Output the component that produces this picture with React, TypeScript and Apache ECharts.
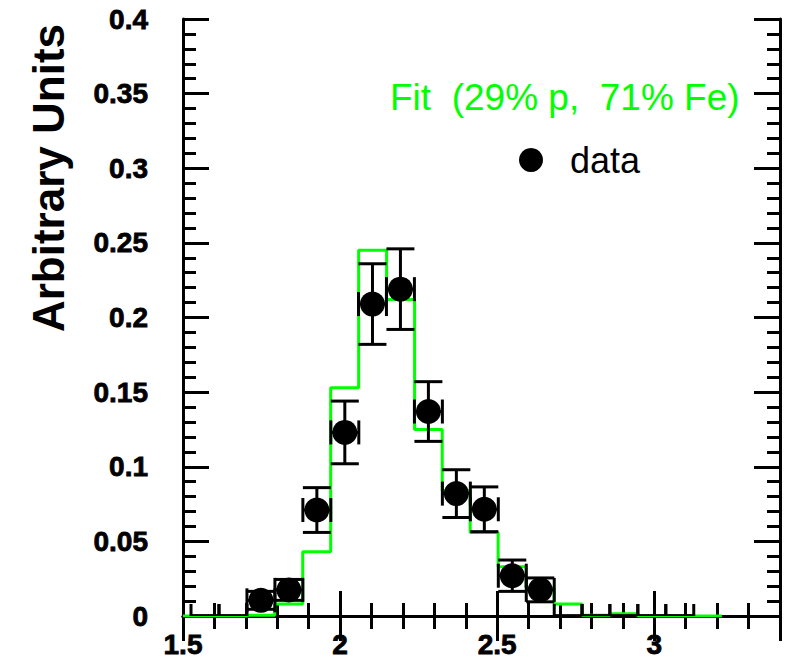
import React, { useEffect, useRef } from 'react';
import * as echarts from 'echarts';

// Fit histogram (green): bin edges and bin contents
const binEdges = [1.5, 1.614, 1.703, 1.792, 1.881, 1.970, 2.059, 2.148, 2.237, 2.325, 2.414, 2.503, 2.592, 2.681, 2.770, 2.859, 2.948, 3.037, 3.126, 3.215];
const fitValues = [0, 0, 0.0005, 0.008, 0.043, 0.153, 0.245, 0.212, 0.125, 0.084, 0.056, 0.033, 0.019, 0.008, 0.0005, 0.0015, 0, 0, 0];

// Data points (black)
const dataX = [1.748, 1.837, 1.926, 2.015, 2.103, 2.192, 2.281, 2.370, 2.459, 2.548, 2.637];
const dataY = [0.0105, 0.0175, 0.071, 0.123, 0.209, 0.219, 0.137, 0.082, 0.0715, 0.027, 0.0175];
const dataErr = [0.006, 0.007, 0.015, 0.021, 0.027, 0.027, 0.020, 0.016, 0.015, 0.0105, 0.008];
// Empty bins that still show their horizontal error bars
const zeroX = [1.570, 1.659, 2.726, 2.814, 2.903, 2.992, 3.081];
const binHalfWidth = 0.0445;

const xTickLabels = ['1.5', '2', '2.5', '3'];
const yTickLabels = ['0', '0.05', '0.1', '0.15', '0.2', '0.25', '0.3', '0.35', '0.4'];

const titleY = 'Arbitrary Units';
const fitLabel = 'Fit  (29% p,  71% Fe)';
const dataLabel = 'data';

const X_MIN = 1.5, X_MAX = 3.4, Y_MIN = 0, Y_MAX = 0.4;

export default function App() {
  const ref = useRef<HTMLDivElement>(null);
  useEffect(() => {
    if (!ref.current) return;
    const chart = echarts.init(ref.current, null, { renderer: 'svg' });

    const black = '#000';
    const frameLine = { show: true, lineStyle: { color: black, width: 3 } };
    const noLine = { show: false };
    const labelStyle = {
      fontFamily: 'Liberation Sans',
      fontWeight: 'bold' as const,
      fontSize: 28,
      color: black,
      textBorderColor: black,
      textBorderWidth: 0.8,
    };
    const mkX = (pos: 'top' | 'bottom', interval: number, tickLen: number, withLine: boolean, withLabel: boolean) => ({
      type: 'value',
      position: pos,
      min: X_MIN,
      max: X_MAX,
      interval,
      axisLine: withLine ? frameLine : noLine,
      axisTick: { show: true, inside: true, length: tickLen, lineStyle: { color: black, width: 3 } },
      axisLabel: withLabel
        ? {
            show: true,
            margin: 14,
            ...labelStyle,
            formatter: (_v: number, i: number) => (i % 5 === 0 && xTickLabels[i / 5] !== undefined ? xTickLabels[i / 5] : ''),
          }
        : { show: false },
      splitLine: { show: false },
    });
    const mkY = (pos: 'left' | 'right', interval: number, tickLen: number, withLine: boolean, withLabel: boolean) => ({
      type: 'value',
      position: pos,
      min: Y_MIN,
      max: Y_MAX,
      interval,
      axisLine: withLine ? frameLine : noLine,
      axisTick: { show: true, inside: true, length: tickLen, lineStyle: { color: black, width: 3 } },
      axisLabel: withLabel
        ? {
            show: true,
            margin: 35,
            ...labelStyle,
            formatter: (_v: number, i: number) => (i % 5 === 0 && yTickLabels[i / 5] !== undefined ? yTickLabels[i / 5] : ''),
          }
        : { show: false },
      splitLine: { show: false },
    });

    const histData: number[][] = fitValues.map((v, i) => [binEdges[i], v]);
    histData.push([binEdges[binEdges.length - 1], fitValues[fitValues.length - 1]]);

    const errData = dataX.map((x, i) => [x, dataY[i], dataErr[i], binHalfWidth]);
    const zeroData = zeroX.map((x) => [x, 0, 0, binHalfWidth]);

    const renderErr = (params: any, api: any) => {
      const x = api.value(0), y = api.value(1), e = api.value(2), hw = api.value(3);
      const c = api.coord([x, y]);
      const top = api.coord([x, y + e]);
      const bot = api.coord([x, y - e]);
      const l = api.coord([x - hw, y]);
      const r = api.coord([x + hw, y]);
      const capH = 12;
      const st = { stroke: black, lineWidth: 3, fill: 'none' };
      return {
        type: 'group',
        children: [
          { type: 'line', shape: { x1: c[0], y1: top[1], x2: c[0], y2: bot[1] }, style: st },
          { type: 'line', shape: { x1: l[0], y1: c[1], x2: r[0], y2: c[1] }, style: st },
          { type: 'line', shape: { x1: l[0], y1: top[1], x2: r[0], y2: top[1] }, style: st },
          { type: 'line', shape: { x1: l[0], y1: bot[1], x2: r[0], y2: bot[1] }, style: st },
          { type: 'line', shape: { x1: l[0], y1: c[1] - capH, x2: l[0], y2: c[1] + capH }, style: st },
          { type: 'line', shape: { x1: r[0], y1: c[1] - capH, x2: r[0], y2: c[1] + capH }, style: st },
        ],
      };
    };

    chart.setOption({
      animation: false,
      backgroundColor: '#fff',
      grid: { left: 183, right: 9, top: 19, bottom: 46, containLabel: false },
      xAxis: [
        mkX('bottom', 0.1, 13, true, true),
        mkX('bottom', 0.5, 25, false, false),
        mkX('top', 0.1, 13, true, false),
        mkX('top', 0.5, 25, false, false),
      ],
      yAxis: [
        mkY('left', 0.01, 13, true, true),
        mkY('left', 0.05, 26, false, false),
        mkY('right', 0.01, 13, true, false),
        mkY('right', 0.05, 26, false, false),
      ],
      series: [
        {
          type: 'line',
          name: 'fit',
          step: 'end',
          data: histData,
          symbol: 'none',
          lineStyle: { color: '#00ff00', width: 3 },
          z: 2,
        },
        {
          type: 'custom',
          name: 'err',
          renderItem: renderErr,
          data: [...errData, ...zeroData],
          clip: true,
          z: 3,
        },
        {
          type: 'scatter',
          name: 'data',
          data: dataX.map((x, i) => [x, dataY[i]]),
          symbol: 'circle',
          symbolSize: 25,
          itemStyle: { color: black, opacity: 1 },
          z: 4,
        },
      ],
      graphic: [
        {
          type: 'text',
          x: 48,
          y: 178,
          rotation: Math.PI / 2,
          style: {
            text: titleY,
            fontFamily: 'Liberation Sans',
            fontWeight: 'bold',
            fontSize: 44,
            fill: black,
            align: 'center',
            verticalAlign: 'middle',
          },
        },
        {
          type: 'text',
          x: 390,
          y: 97,
          style: {
            text: fitLabel,
            fontFamily: 'Liberation Sans',
            fontSize: 37,
            fill: '#00ff00',
            align: 'left',
            verticalAlign: 'middle',
          },
        },
        {
          type: 'circle',
          shape: { cx: 531, cy: 160, r: 12 },
          style: { fill: black },
        },
        {
          type: 'text',
          x: 570,
          y: 160,
          style: {
            text: dataLabel,
            fontFamily: 'Liberation Sans',
            fontSize: 36,
            fill: black,
            align: 'left',
            verticalAlign: 'middle',
          },
        },
      ],
    });

    return () => chart.dispose();
  }, []);

  return (
    <div
      ref={ref}
      style={{ position: 'fixed', left: 0, top: 0, width: 789, height: 662, background: '#fff' }}
    />
  );
}
